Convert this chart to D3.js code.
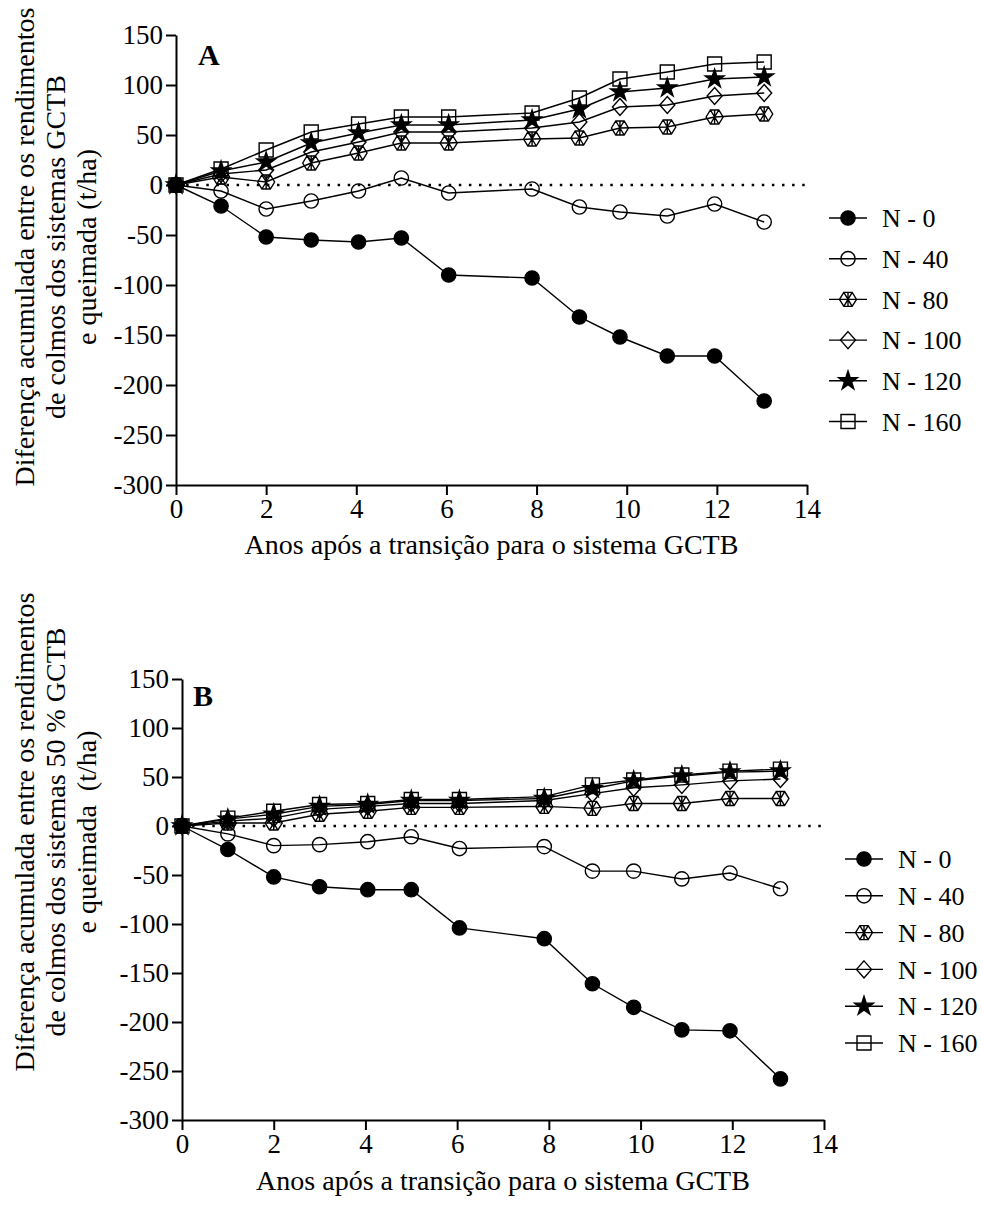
<!DOCTYPE html>
<html lang="pt">
  <head>
    <meta charset="UTF-8" />
    <title>Diferença acumulada GCTB</title>
    <script src="https://d3js.org/d3.v7.min.js"></script>
    <style>
      body {
        margin: 0;
        background: #fff;
      }
    </style>
  </head>
  <body>
    <div class="chart"></div>
  </body>

  <script>
    // anos (eixo x)
    var years = [0, 1, 2, 3, 4.05, 5, 6.05, 7.9, 8.95, 9.85, 10.9, 11.95, 13.05];
    var seriesNames = ["N - 0", "N - 40", "N - 80", "N - 100", "N - 120", "N - 160"];
    var xTicks = [0, 2, 4, 6, 8, 10, 12, 14];
    var yTicks = [-300, -250, -200, -150, -100, -50, 0, 50, 100, 150];

    // painel A: GCTB vs queimada
    var n0A = [0, -21, -52, -55, -57, -53, -90, -93, -132, -152, -171, -171, -216];
    var n40A = [0, -6, -24, -16, -6, 7, -8, -4, -22, -27, -31, -19, -37];
    var n80A = [0, 8, 3, 22, 32, 42, 42, 46, 47, 57, 58, 68, 71];
    var n100A = [0, 11, 15, 33, 43, 53, 53, 57, 63, 78, 80, 89, 92];
    var n120A = [0, 14, 23, 42, 52, 60, 60, 65, 76, 93, 97, 106, 108];
    var n160A = [0, 16, 35, 53, 61, 68, 68, 72, 87, 106, 113, 121, 123];

    // painel B: 50 % GCTB vs queimada
    var n0B = [0, -24, -52, -62, -65, -65, -104, -115, -161, -185, -208, -209, -258];
    var n40B = [0, -8, -20, -19, -16, -11, -23, -21, -46, -46, -54, -48, -64];
    var n80B = [0, 3, 3, 12, 15, 19, 19, 20, 18, 23, 23, 28, 28];
    var n100B = [0, 5, 8, 17, 20, 23, 23, 26, 33, 39, 42, 46, 48];
    var n120B = [0, 7, 12, 20, 22, 26, 26, 28, 38, 46, 51, 55, 56];
    var n160B = [0, 8, 15, 22, 23, 27, 27, 30, 42, 47, 52, 56, 58];

    var titleA = ["Diferença acumulada entre os rendimentos", "de colmos dos sistemas GCTB", "e queimada (t/ha)"];
    var titleB = ["Diferença acumulada entre os rendimentos", "de colmos dos sistemas 50 % GCTB", "e queimada  (t/ha)"];
    var xTitle = "Anos após a transição para o sistema GCTB";

    var FONT = "'Liberation Serif', 'Times New Roman', Times, serif";

    var svg = d3
      .select(".chart")
      .append("svg")
      .attr("width", 982)
      .attr("height", 1205)
      .attr("font-family", FONT);

    // marcadores
    function hexPath() {
      var w = 8.5, h = 7, q = 4.2;
      return (
        "M" + -w + ",0L" + -q + "," + -h + "L" + q + "," + -h + "L" + w + ",0L" + q + "," + h + "L" + -q + "," + h + "Z" +
        "M" + -q + "," + -h + "L" + q + "," + h +
        "M" + q + "," + -h + "L" + -q + "," + h +
        "M0," + -h + "L0," + h
      );
    }
    function diamondPath() {
      return "M0,-8.5L7.5,0L0,8.5L-7.5,0Z";
    }
    var markers = [
      { d: d3.symbol().type(d3.symbolCircle).size(160)(), fill: "#000" },
      { d: d3.symbol().type(d3.symbolCircle).size(160)(), fill: "none" },
      { d: hexPath(), fill: "none" },
      { d: diamondPath(), fill: "none" },
      { d: d3.symbol().type(d3.symbolStar).size(110)(), fill: "#000" },
      { d: d3.symbol().type(d3.symbolSquare).size(196)(), fill: "none" },
    ];

    function styleAxis(sel) {
      sel.attr("font-family", FONT).attr("font-size", 27);
      sel.selectAll("path, line").attr("stroke", "#000").attr("stroke-width", 2);
      sel.selectAll("text").attr("fill", "#000");
    }

    function drawPanel(cfg) {
      var x = d3.scaleLinear().domain([0, 14]).range([cfg.x0, cfg.x1]);
      var y = d3.scaleLinear().domain([-300, 150]).range([cfg.yBottom, cfg.yTop]);
      var g = svg.append("g");

      g.append("g")
        .attr("transform", "translate(0," + cfg.yBottom + ")")
        .call(
          d3.axisBottom(x).tickValues(xTicks).tickFormat((d) => String(d))
            .tickSize(10).tickSizeOuter(0).tickPadding(4)
        )
        .call(styleAxis);
      g.append("g")
        .attr("transform", "translate(" + cfg.x0 + ",0)")
        .call(
          d3.axisLeft(y).tickValues(yTicks).tickFormat((d) => String(d))
            .tickSize(10).tickSizeOuter(0).tickPadding(3)
        )
        .call(styleAxis);

      // linha pontilhada em zero
      g.append("line")
        .attr("x1", x(0))
        .attr("x2", x(14))
        .attr("y1", y(0))
        .attr("y2", y(0))
        .attr("stroke", "#000")
        .attr("stroke-width", 2.5)
        .attr("stroke-dasharray", "2.5,7.6");

      var line = d3
        .line()
        .x((d, i) => x(years[i]))
        .y((d) => y(d));

      // N-160 primeiro, N-0 por cima
      for (var k = cfg.series.length - 1; k >= 0; k--) {
        var vals = cfg.series[k];
        g.append("path")
          .attr("d", line(vals))
          .attr("fill", "none")
          .attr("stroke", "#000")
          .attr("stroke-width", 1.4);
        g.selectAll(null)
          .data(vals)
          .enter()
          .append("path")
          .attr("transform", (d, i) => "translate(" + x(years[i]) + "," + y(d) + ")")
          .attr("d", markers[k].d)
          .attr("fill", markers[k].fill)
          .attr("stroke", "#000")
          .attr("stroke-width", 1.4);
      }

      // letra do painel
      g.append("text")
        .attr("x", cfg.letterX)
        .attr("y", cfg.letterY)
        .attr("font-size", 30)
        .attr("font-weight", "bold")
        .text(cfg.letter);

      // título do eixo y
      cfg.title.forEach(function (t, i) {
        g.append("text")
          .attr("transform", "translate(" + (34 + i * 31) + "," + cfg.titleY + ") rotate(-90)")
          .attr("text-anchor", "middle")
          .attr("font-size", 28)
          .attr("xml:space", "preserve")
          .style("white-space", "pre")
          .text(t);
      });

      // título do eixo x
      g.append("text")
        .attr("x", (cfg.x0 + cfg.x1) / 2)
        .attr("y", cfg.xTitleY)
        .attr("text-anchor", "middle")
        .attr("font-size", 28)
        .text(xTitle);

      // legenda
      var leg = g
        .selectAll(".leg")
        .data(seriesNames)
        .enter()
        .append("g")
        .attr("transform", (d, i) => "translate(" + cfg.legX + "," + (cfg.legY + i * cfg.legStep) + ")");
      leg.append("line")
        .attr("x1", -19)
        .attr("x2", 19)
        .attr("stroke", "#000")
        .attr("stroke-width", 1.4);
      leg.append("path")
        .attr("d", (d, i) => markers[i].d)
        .attr("fill", (d, i) => markers[i].fill)
        .attr("stroke", "#000")
        .attr("stroke-width", 1.4);
      leg.append("text")
        .attr("x", 34)
        .attr("dy", "0.35em")
        .attr("font-size", 26)
        .text((d) => d);
    }

    drawPanel({
      x0: 176, x1: 807, yTop: 35, yBottom: 485,
      series: [n0A, n40A, n80A, n100A, n120A, n160A],
      letter: "A", letterX: 198, letterY: 65,
      title: titleA, titleY: 247, xTitleY: 554,
      legX: 848, legY: 218, legStep: 40.7,
    });

    drawPanel({
      x0: 182, x1: 824, yTop: 679, yBottom: 1120,
      series: [n0B, n40B, n80B, n100B, n120B, n160B],
      letter: "B", letterX: 193, letterY: 706,
      title: titleB, titleY: 832, xTitleY: 1190,
      legX: 864, legY: 859, legStep: 36.8,
    });
  </script>
</html>
